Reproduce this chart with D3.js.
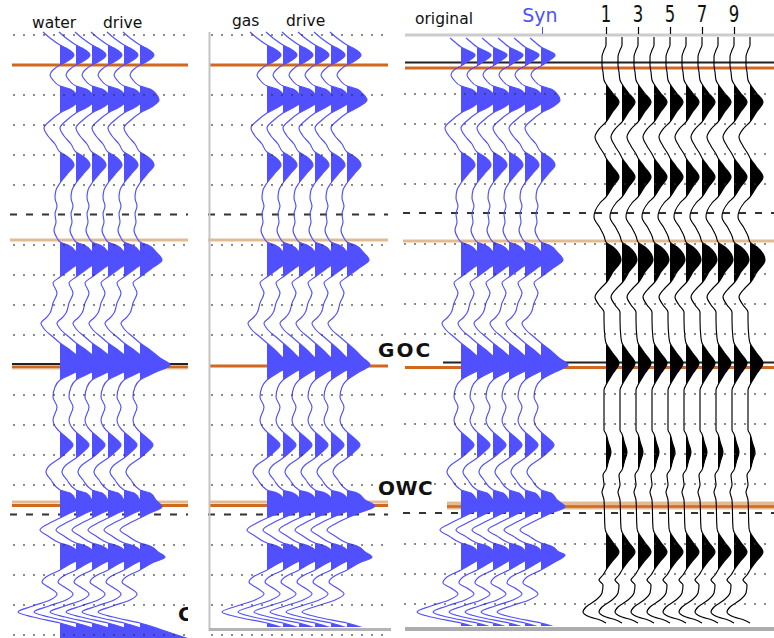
<!DOCTYPE html>
<html><head><meta charset="utf-8">
<script src="https://cdn.jsdelivr.net/npm/d3@7"></script>
<style>body{margin:0;background:#fff}svg{display:block}</style>
</head><body><svg id="c" width="774" height="638"></svg>
<script>
// ---------------- DATA ----------------
const panelTitles = [["water", "drive"], ["gas", "drive"], ["original"]];
const synLabel = "Syn";
const traceNumberLabels = ["1", "3", "5", "7", "9"];
const contactNames = ["GOC", "OWC"];
const contactTimes = [366, 505];
const markerTimes = [65, 240];
const dashedTimes = [214, 514];
const blueTraceCount = 6;
const blackTraceCount = 10;

// wiggle traces: [time, amplitude]
const waterDrive = [[32,-17],[38,-10],[45,0],[48,6],[55,14],[62,6],[65,0],[70,-7],[75,-10],[80,-7],[86,0],[89,10],[94,16],[100,19],[106,13],[113,0],[120,-9],[128,-16],[136,-12],[144,-5],[152,0],[157,8],[165,14],[173,8],[183,0],[190,-4],[198,-5],[206,-3],[214,-5],[222,-4],[230,-6],[238,-3],[242,0],[245,8],[252,16],[260,22],[268,12],[277,0],[283,-7],[293,-3],[303,-7],[313,-10],[318,-14],[323,-19],[330,-15],[337,-7],[343,0],[350,10],[358,20],[365,30],[372,16],[380,0],[387,-5],[397,-7],[407,-3],[420,-7],[430,-2],[432,0],[438,7],[445,13],[452,7],[458,0],[465,-10],[472,-14],[480,-9],[490,0],[493,10],[500,16],[507,22],[513,10],[518,0],[524,-12],[530,-20],[536,-12],[543,0],[546,10],[552,18],[557,25],[563,12],[570,0],[577,-14],[582,-18],[588,-10],[594,-3],[600,-10],[606,-27],[612,-42],[617,-27],[623,0],[630,22],[640,52]];
const gasDrive = [[32,-17],[38,-10],[45,0],[48,6],[55,14],[62,6],[65,0],[70,-7],[75,-10],[80,-7],[86,0],[89,10],[94,16],[100,20],[106,13],[113,0],[120,-9],[128,-16],[136,-12],[144,-5],[152,0],[157,8],[165,14],[173,8],[183,0],[190,-4],[198,-5],[206,-3],[214,-5],[222,-4],[230,-6],[238,-3],[242,0],[245,8],[252,16],[260,22],[268,12],[277,0],[283,-7],[293,-3],[303,-7],[313,-10],[318,-14],[323,-19],[330,-15],[337,-7],[343,0],[350,8],[358,16],[365,23],[372,12],[380,0],[387,-5],[397,-7],[407,-3],[420,-7],[430,-2],[432,0],[438,7],[445,13],[452,7],[458,0],[465,-10],[472,-14],[480,-9],[490,0],[493,10],[500,18],[506,28],[513,12],[518,0],[524,-12],[530,-20],[536,-12],[543,0],[546,10],[552,18],[557,25],[563,12],[570,0],[577,-14],[582,-18],[588,-10],[594,-3],[600,-12],[606,-30],[612,-45],[617,-30],[623,0],[630,22]];
const original = [[38,-11],[43,-5],[47,0],[50,6],[55,14],[62,6],[66,0],[70,-7],[75,-10],[80,-7],[86,0],[89,10],[94,16],[100,19],[106,13],[113,0],[120,-9],[128,-16],[136,-12],[144,-5],[152,0],[157,8],[165,14],[173,8],[183,0],[190,-4],[198,-5],[206,-3],[214,-5],[222,-4],[230,-6],[238,-3],[242,0],[245,8],[252,16],[260,22],[268,12],[277,0],[283,-7],[293,-3],[303,-7],[313,-10],[318,-14],[323,-19],[330,-15],[337,-7],[343,0],[350,9],[358,18],[365,27],[372,14],[380,0],[387,-5],[397,-7],[407,-3],[420,-7],[430,-2],[432,0],[438,7],[445,13],[452,7],[458,0],[465,-10],[472,-14],[480,-9],[490,0],[493,10],[500,16],[507,24],[513,10],[518,0],[524,-12],[530,-21],[536,-12],[543,0],[546,10],[552,18],[555,24],[563,12],[570,0],[577,-14],[583,-18],[588,-10],[594,-3],[600,-12],[606,-30],[612,-44],[617,-30],[623,0],[630,22]];
const synthetic = [[37,0],[45,0],[50,-2],[57,-4],[65,-4],[72,-3],[80,-2],[84,0],[93,6.5],[102,13],[112,6.5],[122,0],[128,-6],[137,-11],[146,-7],[154,-2],[158,0],[167,6.5],[177,13],[187,6.5],[197,0],[203,-6],[217,-12],[228,-6],[236,-2],[242,0],[247,7],[260,15],[272,7],[283,0],[288,-5],[297,-11],[305,-7],[312,-2],[320,-2],[338,-1],[343,0],[353,6.5],[363,13],[374,6.5],[385,0],[390,-2],[430,-2],[434,0],[443,2.5],[452,5],[461,2.5],[470,0],[475,-3],[485,-2],[492,-4],[500,-2],[528,-1],[532,0],[542,6.5],[552,13],[561,6.5],[570,0],[575,-3],[580,-7],[585,-3],[593,-4],[600,-10],[607,-20],[612,-23],[617,-16],[620,-6],[623,0]];

// ---------------- DRAW ----------------
const svg = d3.select("#c");
const BLUE = "#5050ff", ORANGE = "#d0691f", TAN = "#e3bb92", GRAY = "#c4c4c4";
const yScale = d3.scaleLinear().domain([0, 638]).range([0, 638]);
const aScale = d3.scaleLinear().domain([-50, 50]).range([-50, 50]);

const panels = [
  {left: 12, right: 188, dot0: 14, traces: [60, 140], data: waterDrive, clipTop: 28, clipBottom: 640},
  {left: 210, right: 388, dot0: 212, traces: [267, 347], data: gasDrive, clipTop: 28, clipBottom: 627},
  {left: 405, right: 774, dot0: 405, traces: [461, 541], data: original, clipTop: 36, clipBottom: 626}
];
const defs = svg.append("defs");
panels.forEach((p, i) => {
  defs.append("clipPath").attr("id", "clip" + i).append("rect")
    .attr("x", p.left - 12).attr("y", p.clipTop).attr("width", p.right - p.left + 14).attr("height", p.clipBottom - p.clipTop);
});

function hline(y, x0, x1, color, w, dash) {
  const l = svg.append("line").attr("x1", x0).attr("x2", x1).attr("y1", y).attr("y2", y)
    .attr("stroke", color).attr("stroke-width", w);
  if (dash) l.attr("stroke-dasharray", dash);
  return l;
}

// dashed lines
panels.forEach((p, i) => {
  dashedTimes.forEach(t => hline(yScale(t) + 0.5 - (i === 2 ? 1.5 : 0), p.left - 2, p.right, "#333", 2, "7 9"));
});

// horizon lines (under traces)
hline(yScale(markerTimes[0]), panels[0].left, panels[0].right, ORANGE, 3);
hline(yScale(markerTimes[0]), panels[1].left, panels[1].right, ORANGE, 3);
hline(yScale(markerTimes[0]) - 2.5, panels[2].left, panels[2].right, "#222", 2);
hline(yScale(markerTimes[0]) + 3, panels[2].left, panels[2].right, ORANGE, 3);
panels.forEach((p, i) => hline(yScale(markerTimes[1]) + (i === 2 ? 1 : 0), p.left - 2, p.right, TAN, 3));
hline(yScale(contactTimes[0]) - 2, panels[0].left, panels[0].right, "#222", 2);
hline(yScale(contactTimes[0]) + 1, panels[0].left, panels[0].right, ORANGE, 3);
hline(yScale(contactTimes[0]) + 3, panels[0].left, panels[0].right, TAN, 1);
hline(yScale(contactTimes[0]), panels[1].left, panels[1].right, ORANGE, 3);
hline(yScale(contactTimes[0]) - 3.5, 443, panels[2].right, "#222", 2);
hline(yScale(contactTimes[0]) + 1.5, panels[2].left, panels[2].right, ORANGE, 3);
hline(yScale(contactTimes[1]) - 3, panels[0].left, panels[0].right, TAN, 3);
hline(yScale(contactTimes[1]) + 0.5, panels[0].left, panels[0].right, ORANGE, 3);
hline(yScale(contactTimes[1]) - 3, panels[1].left, panels[1].right, TAN, 3);
hline(yScale(contactTimes[1]) + 0.5, panels[1].left, panels[1].right, ORANGE, 3);
hline(yScale(contactTimes[1]) + 0.5, 447, panels[2].right, TAN, 8);
hline(yScale(contactTimes[1]) + 1.5, 447, panels[2].right, ORANGE, 2.5);

// traces: smooth monotone curve in time, positive side filled (clipped at baseline)
let clipCount = 0;
function drawTraces(g, data, bases, color) {
  bases.forEach(b => {
    const id = "tc" + (clipCount++);
    defs.append("clipPath").attr("id", id).append("rect")
      .attr("x", b).attr("y", 0).attr("width", 120).attr("height", 660);
    const area = d3.area().curve(d3.curveMonotoneY)
      .y(d => yScale(d[0])).x0(b).x1(d => b + aScale(d[1]));
    const line = d3.line().curve(d3.curveMonotoneY)
      .y(d => yScale(d[0])).x(d => b + aScale(d[1]));
    g.append("path").attr("d", area(data)).attr("fill", color).attr("clip-path", `url(#${id})`);
    g.append("path").attr("d", line(data)).attr("fill", "none").attr("stroke", color).attr("stroke-width", 1.15);
  });
}
panels.forEach((p, i) => {
  const g = svg.append("g").attr("clip-path", "url(#clip" + i + ")");
  const xT = d3.scaleLinear().domain([0, blueTraceCount - 1]).range(p.traces);
  drawTraces(g, p.data, d3.range(blueTraceCount).map(k => Math.round(xT(k))), BLUE);
});
const xBlack = d3.scaleLinear().domain([0, blackTraceCount - 1]).range([606, 750]);
const gB = svg.append("g").attr("clip-path", "url(#clip2)");
drawTraces(gB, synthetic, d3.range(blackTraceCount).map(k => Math.round(xBlack(k))), "#000");

// dotted grid (on top)
const dotRows = d3.range(35, 640, 30).filter(y => !dashedTimes.some(t => Math.abs(t - y) < 3) && Math.abs(y - contactTimes[0]) > 3 && Math.abs(y - markerTimes[0]) > 3);
panels.forEach((p, i) => {
  const cols = d3.range(p.dot0, p.right - 1, 10);
  dotRows.forEach(r => {
    if (i === 2 && (r < 40 || r > 630)) return;
    svg.append("g").selectAll("rect").data(cols).join("rect")
      .attr("x", c => c - 0.75).attr("y", yScale(r) - 0.75 - (i === 2 ? 1 : 0)).attr("width", 1.5).attr("height", 1.5).attr("fill", "#333");
  });
});

// frame lines
svg.append("line").attr("x1", 209.5).attr("x2", 209.5).attr("y1", 32).attr("y2", 631).attr("stroke", GRAY).attr("stroke-width", 2);
hline(629.5, 209, 391, "#b4b4b4", 3);
hline(35, 405, 774, "#cccccc", 3);
hline(629, 405, 774, "#adadad", 4);

// titles
const tf = "'DejaVu Sans', Verdana, sans-serif";
function label(x, y, s, size, fill) {
  return svg.append("text").attr("x", x).attr("y", y).text(s).attr("font-family", tf).attr("font-size", size).attr("fill", fill || "#111");
}
label(32, 28, panelTitles[0][0], 15.5);
label(103, 28, panelTitles[0][1], 15.5);
label(232, 26, panelTitles[1][0], 15.5);
label(286, 26, panelTitles[1][1], 15.5);
label(415, 24, panelTitles[2][0], 15.5);
label(540, 22, synLabel, 19, BLUE).attr("text-anchor", "middle");
svg.append("line").attr("x1", 542.5).attr("x2", 542.5).attr("y1", 27).attr("y2", 34).attr("stroke", BLUE).attr("stroke-width", 1);
traceNumberLabels.forEach((lab, j) => {
  const x = Math.round(xBlack(j * 2));
  svg.append("text").attr("transform", `translate(${x},22) scale(0.72,1)`).attr("text-anchor", "middle")
    .text(lab).attr("font-family", tf).attr("font-size", 23).attr("fill", "#111");
  svg.append("line").attr("x1", x + 0.5).attr("x2", x + 0.5).attr("y1", 27).attr("y2", 34).attr("stroke", "#000").attr("stroke-width", 1.2);
});
label(378, 357, contactNames[0], 20).attr("font-weight", "bold").attr("letter-spacing", 2);
label(378, 495, contactNames[1], 20).attr("font-weight", "bold").attr("letter-spacing", 0.5);
defs.append("clipPath").attr("id", "clipC").append("rect").attr("x", 170).attr("y", 590).attr("width", 18).attr("height", 40);
label(178, 621, "C", 20).attr("clip-path", "url(#clipC)").attr("font-weight", "bold");
</script></body></html>
